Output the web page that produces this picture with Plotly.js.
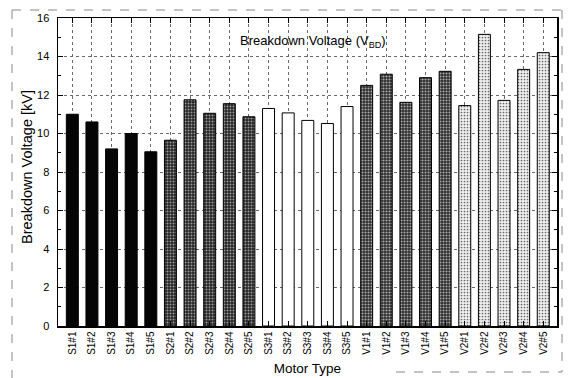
<!DOCTYPE html>
<html><head><meta charset="utf-8">
<script src="https://cdn.plot.ly/plotly-3.0.1.min.js"></script>
<style>html,body{margin:0;padding:0;background:#fff;}#chart{width:569px;height:378px;}</style>
</head><body><div id="chart"></div>
<script>
const categories = ["S1#1","S1#2","S1#3","S1#4","S1#5","S2#1","S2#2","S2#3","S2#4","S2#5","S3#1","S3#2","S3#3","S3#4","S3#5","V1#1","V1#2","V1#3","V1#4","V1#5","V2#1","V2#2","V2#3","V2#4","V2#5"];
const s1 = [11.0, 10.6, 9.2, 10.0, 9.05];
const s2 = [9.65, 11.75, 11.05, 11.55, 10.87];
const s3 = [11.3, 11.07, 10.68, 10.52, 11.4];
const v1 = [12.5, 13.08, 11.62, 12.9, 13.23];
const v2 = [11.45, 15.15, 11.72, 13.33, 14.2];
const yTicks = [0,2,4,6,8,10,12,14,16];

const font = "Liberation Sans, Arial, sans-serif";
function grp(i){ return categories.slice(i*5, i*5+5); }
const line = {color:'#000', width:1};
const traces = [
  {x:grp(0), y:s1, type:'bar', marker:{color:'#050505', line:line}},
  {x:grp(1), y:s2, type:'bar', marker:{color:'#2a2a2a', line:line, pattern:{shape:'.', bgcolor:'#242424', fgcolor:'#9a9a9a', size:3, solidity:0.35}}},
  {x:grp(2), y:s3, type:'bar', marker:{color:'#ffffff', line:line}},
  {x:grp(3), y:v1, type:'bar', marker:{color:'#333', line:line, pattern:{shape:'.', bgcolor:'#2c2c2c', fgcolor:'#aaaaaa', size:3, solidity:0.4}}},
  {x:grp(4), y:v2, type:'bar', marker:{color:'#e6e6e6', line:line, pattern:{shape:'.', bgcolor:'#eeeeee', fgcolor:'#666666', size:3, solidity:0.25}}}
];
traces.forEach(t=>{t.showlegend=false; t.hoverinfo='skip';});

const dash = {color:'#888', width:1, dash:'dash'};
function px(x){ return (x-58)/499; }
function py(y){ return (326-y)/308; }

const layout = {
  width:569, height:378,
  margin:{l:58, r:12, t:18, b:52},
  paper_bgcolor:'#fff', plot_bgcolor:'#fff',
  barmode:'overlay', bargap:0.39,
  font:{family:font, color:'#000', size:11},
  xaxis:{
    type:'category', categoryorder:'array', categoryarray:categories,
    range:[-0.73, 24.7],
    showgrid:true, gridcolor:'#6a6a6a', griddash:'dot', gridwidth:1,
    showline:true, linecolor:'#000', linewidth:1.5, mirror:'ticks',
    ticks:'inside', ticklen:5, tickcolor:'#000',
    tickangle:-90, tickfont:{size:10, family:font},
    title:{text:'Motor Type', font:{size:13.5, family:font}, standoff:9},
    zeroline:false, automargin:false
  },
  yaxis:{
    range:[0,16], tickvals:yTicks,
    showgrid:true, gridcolor:'#6a6a6a', griddash:'dot', gridwidth:1,
    showline:true, linecolor:'#000', linewidth:1.5, mirror:'ticks',
    ticks:'inside', ticklen:5, tickcolor:'#000', ticklabelstandoff:5,
    minor:{dtick:1, ticks:'inside', ticklen:3, tickcolor:'#000', showgrid:false},
    tickfont:{size:11, family:font},
    zeroline:false, automargin:false
  },
  annotations:[
    {xref:'paper', yref:'paper', x:px(313), y:py(41), yanchor:'middle', showarrow:false,
     text:'Breakdown Voltage (V<sub>BD</sub>)', font:{size:13, family:font, color:'#000'}},
    {xref:'paper', yref:'paper', x:px(27), y:py(167), xanchor:'center', yanchor:'middle', showarrow:false,
     textangle:-90, text:'Breakdown Voltage [kV]', font:{size:14.5, family:font, color:'#000'}}
  ],
  shapes:[
    {type:'line', xref:'paper', yref:'paper', x0:px(12), x1:px(562), y0:py(10), y1:py(10), line:dash, layer:'below'},
    {type:'line', xref:'paper', yref:'paper', x0:px(12), x1:px(12), y0:py(10), y1:py(378), line:dash, layer:'below'},
    {type:'line', xref:'paper', yref:'paper', x0:px(562), x1:px(562), y0:py(10), y1:py(372), line:dash, layer:'below'},
    {type:'line', xref:'paper', yref:'paper', x0:px(396), x1:px(562), y0:py(372), y1:py(372), line:dash, layer:'below'}
  ]
};
Plotly.newPlot('chart', traces, layout, {staticPlot:true, displayModeBar:false});
</script></body></html>
